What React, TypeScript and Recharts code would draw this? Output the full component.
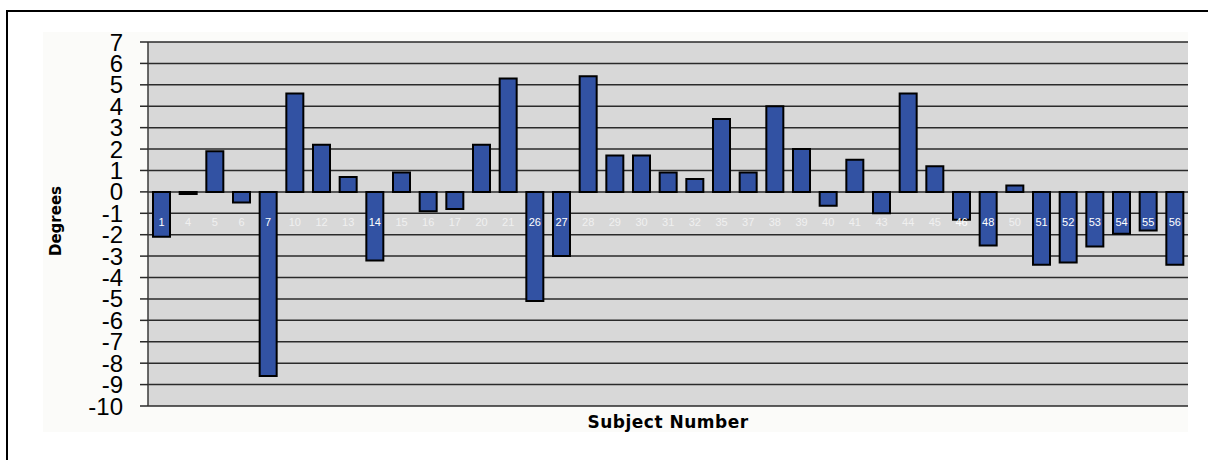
import { BarChart, Bar, XAxis, YAxis, CartesianGrid, LabelList } from 'recharts';

const subjects = [
  '1', '4', '5', '6', '7', '10', '12', '13', '14', '15', '16', '17', '20',
  '21', '26', '27', '28', '29', '30', '31', '32', '35', '37', '38', '39', '40',
  '41', '43', '44', '45', '46', '48', '50', '51', '52', '53', '54', '55', '56',
];

const degrees = [
  -2.1, -0.1, 1.9, -0.5, -8.6, 4.6, 2.2, 0.7, -3.2, 0.9, -0.9, -0.8, 2.2,
  5.3, -5.1, -3.0, 5.4, 1.7, 1.7, 0.9, 0.6, 3.4, 0.9, 4.0, 2.0, -0.65,
  1.5, -1.0, 4.6, 1.2, -1.3, -2.5, 0.3, -3.4, -3.3, -2.55, -1.95, -1.8, -3.4,
];

const yTicks = [-10, -9, -8, -7, -6, -5, -4, -3, -2, -1, 0, 1, 2, 3, 4, 5, 6, 7];

const data = subjects.map((s, i) => ({ subject: s, value: degrees[i] }));

// category names sit just under the zero line, like Excel's "next to axis"
function SubjectLabel(props: any) {
  const { x, y, width, height, index } = props;
  const v = degrees[index];
  const zero = v >= 0 ? y + height : height < 0 ? y + height : y;
  return (
    <text
      x={x + width / 2}
      y={zero + 30}
      textAnchor='middle'
      dominantBaseline='central'
      fontSize={11}
      fontFamily='Liberation Sans, Arial, sans-serif'
      fill={v < -1.2 ? '#ffffff' : '#f0f0f0'}
    >
      {subjects[index]}
    </text>
  );
}

export default function App() {
  return (
    <div
      style={{
        position: 'absolute',
        left: 0,
        top: 0,
        width: 1208,
        height: 460,
        overflow: 'hidden',
        background: '#fff',
      }}
    >
      <div
        style={{
          position: 'absolute',
          left: 6,
          top: 10,
          width: 1240,
          height: 500,
          borderTop: '2px solid #000',
          borderLeft: '2px solid #000',
        }}
      />
      <div
        style={{
          position: 'absolute',
          left: 43,
          top: 32,
          width: 1145,
          height: 400,
          background: '#fbfbf9',
        }}
      />
      <div style={{ position: 'absolute', left: 0, top: 0 }}>
        <BarChart
          width={1208}
          height={460}
          data={data}
          margin={{ top: 42, right: 20, bottom: 54, left: 0 }}
          barCategoryGap={0}
        >
          <CartesianGrid
            vertical={false}
            stroke='#2a2a2a'
            strokeWidth={1.5}
            fill='#d8d8d8'
            fillOpacity={1}
          />
          <XAxis dataKey='subject' hide />
          <YAxis
            domain={[-10, 7]}
            ticks={yTicks}
            interval={0}
            width={148}
            tickSize={8}
            tickMargin={17}
            axisLine={{ stroke: '#3a3a3a', strokeWidth: 1.5 }}
            tickLine={{ stroke: '#2a2a2a', strokeWidth: 1.5 }}
            tick={{
              fontSize: 24,
              fill: '#000',
              fontFamily: 'Liberation Sans, Arial, sans-serif',
            }}
          />
          <Bar
            dataKey='value'
            fill='#3252a3'
            stroke='#000'
            strokeWidth={2}
            barSize={17}
            isAnimationActive={false}
          >
            <LabelList dataKey='subject' content={SubjectLabel} />
          </Bar>
        </BarChart>
      </div>
      <div
        style={{
          position: 'absolute',
          left: 56,
          top: 221,
          transform: 'translate(-50%, -50%) rotate(-90deg)',
          fontFamily: 'DejaVu Sans, Verdana, sans-serif',
          fontWeight: 'bold',
          fontSize: 15,
          whiteSpace: 'nowrap',
          color: '#000',
        }}
      >
        Degrees
      </div>
      <div
        style={{
          position: 'absolute',
          left: 668,
          top: 422,
          transform: 'translate(-50%, -50%)',
          fontFamily: 'DejaVu Sans, Verdana, sans-serif',
          fontWeight: 'bold',
          fontSize: 17,
          letterSpacing: 0.5,
          whiteSpace: 'nowrap',
          color: '#000',
        }}
      >
        Subject Number
      </div>
    </div>
  );
}
